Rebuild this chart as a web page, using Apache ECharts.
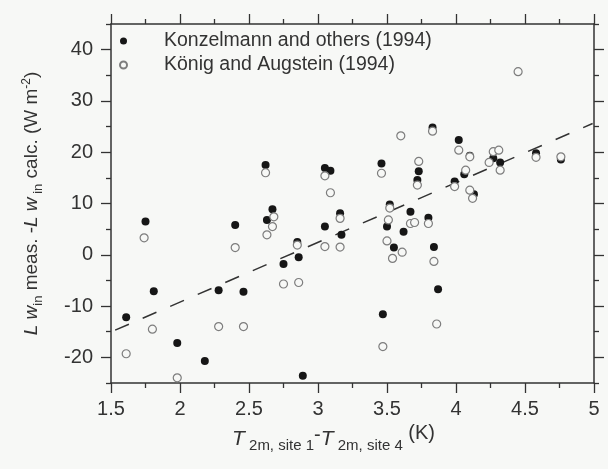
<!DOCTYPE html>
<html><head><meta charset="utf-8">
<script src="https://cdn.jsdelivr.net/npm/echarts@6/dist/echarts.min.js"></script>
<style>html,body{margin:0;padding:0;background:#f7f8f6}#c{width:608px;height:469px}</style>
</head><body><div id="c"></div>
<script>
const seriesNames = ['Konzelmann and others (1994)', 'König and Augstein (1994)'];
const konzX = [1.61,1.75,1.81,1.98,2.18,2.28,2.40,2.46,2.62,2.63,2.67,2.75,2.85,2.86,2.89,3.05,3.09,3.05,3.16,3.17,3.46,3.47,3.52,3.50,3.55,3.62,3.67,3.73,3.72,3.80,3.83,3.84,3.87,3.99,4.02,4.06,4.10,4.13,4.27,4.32,4.58,4.76];
const konzY = [-12.2,6.5,-7.1,-17.2,-20.7,-6.9,5.8,-7.2,17.5,6.8,8.9,-1.8,2.5,-0.5,-23.6,16.9,16.4,5.5,8.1,3.9,17.8,-11.6,9.8,5.5,1.4,4.5,8.4,16.3,14.6,7.2,24.8,1.5,-6.7,14.3,22.4,15.7,19.3,11.8,18.8,18.0,19.8,18.6];
const koenigX = [1.61,1.74,1.80,1.98,2.28,2.40,2.46,2.62,2.63,2.67,2.68,2.75,2.85,2.86,3.05,3.09,3.05,3.16,3.16,3.46,3.47,3.52,3.51,3.50,3.54,3.60,3.61,3.67,3.70,3.73,3.72,3.80,3.83,3.84,3.86,3.99,4.02,4.07,4.10,4.10,4.12,4.24,4.27,4.31,4.32,4.45,4.58,4.76];
const koenigY = [-19.3,3.3,-14.5,-24.0,-14.0,1.4,-14.0,16.0,3.9,5.5,7.4,-5.7,1.9,-5.4,15.4,12.1,1.6,7.1,1.5,15.9,-17.9,9.1,6.8,2.7,-0.7,23.2,0.5,6.1,6.3,18.2,13.6,6.1,24.1,-1.3,-13.5,13.3,20.4,16.5,19.1,12.6,11.0,18.0,20.1,20.4,16.5,35.7,19.0,19.1];
const fitX = [1.53, 4.99];
const fitY = [-14.7, 25.6];
const yMajorTicks = [-20, -10, 0, 10, 20, 30, 40];
const yMinorTicks = [-25, -15, -5, 5, 15, 25, 35, 45];

const FONT = 'Liberation Sans, Arial, sans-serif';
const INK = '#333333';
const BG = '#f7f8f6';
const toPairs = (xs, ys) => xs.map((x, i) => [x, ys[i]]);

const axisLine = { show: true, onZero: false, lineStyle: { color: INK, width: 1.5 } };
const xBase = {
  type: 'value', gridIndex: 0, min: 1.5, max: 5, interval: 0.5,
  axisLine, splitLine: { show: false },
  axisTick: { show: true, inside: false, length: 10, lineStyle: { color: INK, width: 1.3 } },
  minorTick: { show: true, splitNumber: 2, length: 5, lineStyle: { color: INK, width: 1.3 } }
};
const yMajor = {
  type: 'value', gridIndex: 0, min: -25, max: 45, interval: 5,
  axisLine, splitLine: { show: false },
  axisTick: { show: true, inside: false, length: 10, customValues: yMajorTicks, lineStyle: { color: INK, width: 1.3 } }
};
const yMinor = {
  type: 'value', gridIndex: 1, min: -25, max: 45, interval: 5,
  axisLine: { show: false, onZero: false }, splitLine: { show: false }, axisLabel: { show: false },
  axisTick: { show: true, inside: false, length: 5, customValues: yMinorTicks, lineStyle: { color: INK, width: 1.3 } }
};

const chart = echarts.init(document.getElementById('c'), null, { renderer: 'canvas' });
chart.setOption({
  backgroundColor: BG,
  animation: false,
  textStyle: { fontFamily: FONT },
  grid: [
    { left: 111, right: 14, top: 24, bottom: 86 },
    { left: 111, right: 14, top: 24, bottom: 86 }
  ],
  legend: {
    data: seriesNames, orient: 'vertical', left: 114, top: 25,
    itemWidth: 7, itemHeight: 7, itemGap: 2,
    textStyle: { fontSize: 19.5, color: INK, fontFamily: FONT, lineHeight: 22, padding: [0, 0, 0, 32] }
  },
  xAxis: [
    Object.assign({}, xBase, {
      position: 'bottom',
      axisLabel: { show: true, fontSize: 20, color: INK, margin: 16, fontFamily: FONT },
      name: '{i|T}{s| 2m, site 1}{n|-}{i|T}{s| 2m, site 4}{k| (K)}',
      nameLocation: 'middle', nameGap: 32,
      nameTextStyle: {
        color: INK, padding: [0, 38, 0, 0],
        rich: {
          i: { fontSize: 21, fontStyle: 'italic', color: INK, fontFamily: FONT },
          n: { fontSize: 20, color: INK, fontFamily: FONT, padding: [0, 0, 6, 0] },
          s: { fontSize: 15, color: INK, fontFamily: FONT, padding: [14, 0, 0, 0] },
          k: { fontSize: 20, color: INK, fontFamily: FONT, padding: [0, 0, 10, 0] }
        }
      }
    }),
    Object.assign({}, xBase, { position: 'top', axisLabel: { show: false } }),
    { type: 'value', gridIndex: 1, min: 1.5, max: 5, show: false }
  ],
  yAxis: [
    Object.assign({}, yMajor, {
      position: 'left',
      axisLabel: { show: true, fontSize: 20, color: INK, margin: 18, fontFamily: FONT, customValues: yMajorTicks },
      name: '{i|L w}{s|in}{n| meas. -}{i|L w}{s| in}{n| calc. (W m}{p|-2}{n|)}',
      nameLocation: 'middle', nameGap: 66, nameRotate: 90,
      nameTextStyle: {
        color: INK,
        rich: {
          i: { fontSize: 19, fontStyle: 'italic', color: INK, fontFamily: FONT },
          n: { fontSize: 19, color: INK, fontFamily: FONT },
          s: { fontSize: 13, color: INK, fontFamily: FONT, padding: [14, 0, 0, 0] },
          p: { fontSize: 12, color: INK, fontFamily: FONT, padding: [0, 0, 10, 0] }
        }
      }
    }),
    Object.assign({}, yMajor, { position: 'right', axisLabel: { show: false } }),
    Object.assign({}, yMinor, { position: 'left' }),
    Object.assign({}, yMinor, { position: 'right' })
  ],
  series: [
    {
      type: 'line', xAxisIndex: 0, yAxisIndex: 0, data: toPairs(fitX, fitY),
      showSymbol: false, symbol: 'none', silent: true,
      lineStyle: { color: INK, width: 1.5, type: [15, 15] }, z: 1
    },
    {
      name: seriesNames[0], type: 'scatter', xAxisIndex: 0, yAxisIndex: 0,
      data: toPairs(konzX, konzY), symbol: 'circle', symbolSize: 8,
      itemStyle: { color: '#161616', opacity: 1 }, z: 2
    },
    {
      name: seriesNames[1], type: 'scatter', xAxisIndex: 0, yAxisIndex: 0,
      data: toPairs(koenigX, koenigY), symbol: 'circle', symbolSize: 8,
      itemStyle: { color: BG, borderColor: '#7d7d7d', borderWidth: 1.2, opacity: 1 }, z: 3
    }
  ]
});
</script>
</body></html>
